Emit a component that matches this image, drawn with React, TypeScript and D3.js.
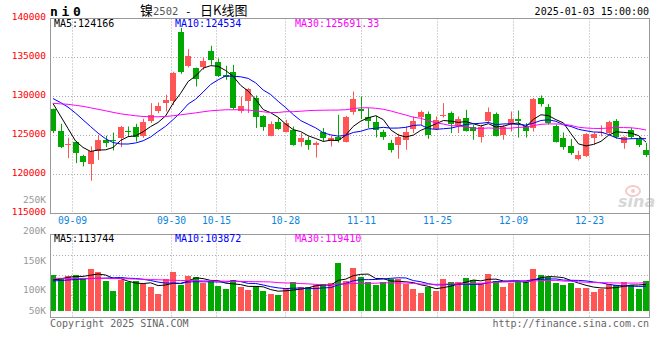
import React from "react";
import * as d3 from "d3";

// ---------- data ----------
const dates = [
  "09-04","09-05","09-06","09-09","09-10","09-11","09-12","09-13","09-18","09-19","09-20","09-23","09-24","09-25","09-26","09-27","09-30",
  "10-08","10-09","10-10","10-11","10-14","10-15","10-16","10-17","10-18","10-21","10-22","10-23","10-24","10-25","10-28","10-29","10-30","10-31",
  "11-01","11-04","11-05","11-06","11-07","11-08","11-11","11-12","11-13","11-14","11-15","11-18","11-19","11-20","11-21","11-22","11-25","11-26","11-27","11-28","11-29",
  "12-02","12-03","12-04","12-05","12-06","12-09","12-10","12-11","12-12","12-13","12-16","12-17","12-18","12-19","12-20","12-23","12-24","12-25","12-26","12-27","12-30","12-31",
  "01-02","01-03",
];
const opens = [
  128380,125600,123800,124230,122310,121370,122950,124360,124450,124670,125600,126150,124960,126920,128170,129150,129400,
  138260,133940,133640,133720,135860,134450,132820,133200,128170,129360,129870,127530,124960,126670,125510,125730,124230,124450,
  123720,125390,124320,124870,124230,127950,128390,127360,126670,125390,124100,123810,124360,125860,127310,127780,125820,127440,127870,126280,127230,
  126150,124830,126890,127780,125090,126500,127140,126280,125950,129800,128590,126280,124740,123680,122010,122310,124740,125400,125350,126800,124030,125730,
  124540,123080,
];
const highs = [
  128450,126500,124700,124300,122530,123600,125090,124960,125380,126240,126150,126500,127150,129150,129230,130220,133170,
  138800,136080,133700,135000,136500,134870,133940,134060,130000,131080,130130,127600,126800,127230,127010,126150,125310,124870,
  124230,125950,124960,127650,127530,130640,130000,128510,127530,125730,124450,125220,126150,127440,128210,128080,127440,129150,128080,127440,128300,
  126370,126370,128590,127950,126370,128080,128210,126590,129800,130130,129030,126400,125390,124540,123040,125300,125390,126300,126890,127100,124900,125950,
  124800,124030,
];
const lows = [
  125300,123400,122100,121460,121030,119200,121880,123510,123080,123510,124800,124230,124700,126590,127870,128080,128900,
  132910,133720,131280,133420,134060,132500,132140,128300,127870,127870,125950,125600,124900,125730,125400,123680,123590,123170,
  122180,124230,123590,124100,124100,127650,127100,125950,124740,124450,122820,122010,123170,125310,126370,124580,125700,127300,125310,125310,125510,
  124450,124100,126590,124870,124450,125510,124740,124740,125510,128720,126400,124100,123170,122530,121800,122230,123810,124900,125200,124600,123300,124600,
  123510,122230,
];
const closes = [
  125520,123510,123950,122820,121540,123000,124360,124100,124320,126030,125440,124870,126720,127650,128720,129580,133000,
  133080,135220,132270,134580,134620,132690,132490,128510,128810,130950,127310,126030,126500,125860,126590,123810,124740,123810,
  124100,124740,124620,124450,127360,129700,128080,126800,125730,124870,123080,124870,125510,126920,127950,125090,127010,127650,126500,127140,125640,
  125640,126150,128000,125000,126150,127100,126800,125640,129700,129060,126540,124230,123510,122820,122530,125220,125220,125450,126720,124800,124800,124800,
  123810,122530,
];
const volumes = [
  152100,139500,147900,152100,139500,177500,164800,126800,84500,131000,122600,126800,114100,101400,71800,135200,164800,
  109900,147900,143700,118300,126800,105700,93000,131000,101400,88700,105700,84500,71800,67600,97200,122600,101400,101400,
  109900,114100,118300,204100,126800,183000,142400,123800,109900,123800,135200,135200,112800,93000,77300,102700,85800,135200,123800,123800,140700,
  131000,117100,157600,126800,102700,119600,126800,126800,177500,152100,145000,119600,109900,117100,98500,98500,81600,91700,112800,109900,123800,109900,
  93000,126800,
];

// moving-average values before enough history is on the chart
const ma5Head = [129100, 127500, 125900, 124300];
const ma10Head = [129740, 129230, 128640, 127870, 127010, 126150, 125310, 124580, 124100];
const ma30Head = [
  129130,129060,129000,128870,128740,128550,128360,128170,127970,127780,127650,127530,127440,127400,127400,
  127440,127530,127650,127780,127900,128040,128170,128230,128300,128300,128300,128260,128170,128040,
];
const volMa5Head = [131000, 135200, 142400, 145800];
const volMa10Head = [126800, 128900, 131000, 133100, 135200, 137300, 138200, 139000, 140000];
const volMa30Head = [
  138200,138200,138000,138000,137800,137800,137500,137300,137000,136500,136000,135000,134000,133000,132000,
  131000,130000,129000,128500,128000,127500,127000,126500,126000,125500,125000,124500,124000,123500,
];

const priceTicks = [140000, 135000, 130000, 125000, 120000, 115000];
const volTicks = [250000, 200000, 150000, 100000, 50000];
const tickDates = ["09-09", "09-30", "10-15", "10-28", "11-11", "11-25", "12-09", "12-23"];
const maNames = ["MA5", "MA10", "MA30"];
const priceMaText = ["124166", "124534", "125691.33"];
const volMaText = ["113744", "103872", "119410"];

// ---------- styling ----------
const RED = "#ff5555";
const GREEN = "#00a800";
const MA_COLORS = ["#000000", "#0000ff", "#ff00ff"];
const MONO = "'DejaVu Sans Mono', monospace";
const GRID = "#aaaaaa";

function movingAverage(values: number[], period: number, head: number[]) {
  return values.map((_, i) =>
    i < period - 1 ? head[i] : (d3.mean(values.slice(i - period + 1, i + 1)) as number)
  );
}

export default function App() {
  const W = 660, H = 360;
  const left = 50, right = 649;
  const pTop = 18.5, pBot = 213.5;
  const vTop = 234.5, vBot = 317.5, vBase = 311;

  const x = d3.scalePoint<string>().domain(dates).range([53, 646.05]);
  const gridX = d3.scaleLinear().domain([0, dates.length - 1]).range([48.9, 650.4]);
  const y = d3.scaleLinear().domain([115000, 140000]).range([pBot, pTop]);
  const vy = d3.scaleLinear().domain([0, 325400]).range([vBase, 234]);
  const vLabelY = d3.scaleLinear().domain([50000, 100000, 150000, 200000, 250000]).range([314, 293.3, 264, 234, 202.7]);

  const priceMAs = [
    movingAverage(closes, 5, ma5Head),
    movingAverage(closes, 10, ma10Head),
    movingAverage(closes, 30, ma30Head),
  ];
  const volMAs = [
    movingAverage(volumes, 5, volMa5Head),
    movingAverage(volumes, 10, volMa10Head),
    movingAverage(volumes, 30, volMa30Head),
  ];

  const pLine = d3.line<number>().x((_, i) => x(dates[i]) as number).y((v) => y(v));
  const vLine = d3.line<number>().x((_, i) => x(dates[i]) as number).y((v) => vy(v));

  const gridXs = tickDates.map((d) => Math.round(gridX(dates.indexOf(d)))) ;

  return (
    <svg width={W} height={H} style={{ position: "absolute", left: 0, top: 0, background: "#fff" }}>
      <rect x={0} y={0} width={W} height={H} fill="#fff" />

      {/* header */}
      <text x={50} y={16} fontFamily={MONO} fontWeight="bold" fontSize={13} letterSpacing={3.7} fill="#000">ni0</text>
      <text y={15} fill="#000">
        <tspan x={140} fontFamily="'Noto Sans CJK SC'" fontSize={13}>镍</tspan>
        <tspan x={153} fontFamily={MONO} fontSize={10.5} fill="#555">2502</tspan>
        <tspan x={185} fontFamily={MONO} fontSize={11}>-</tspan>
        <tspan x={200} fontFamily="'Noto Sans CJK SC'" fontSize={13}>日K线图</tspan>
      </text>
      <text x={649} y={15} textAnchor="end" fontFamily={MONO} fontSize={10} fill="#000">2025-01-03 15:00:00</text>

      {/* price panel grid */}
      {priceTicks.slice(1, -1).map((t) => (
        <line key={t} x1={left} x2={right} y1={y(t)} y2={y(t)} stroke={GRID} strokeDasharray="1,2" />
      ))}
      {gridXs.map((gx, k) => (
        <g key={k}>
          <line x1={gx + 0.5} x2={gx + 0.5} y1={pTop} y2={pBot} stroke={GRID} strokeDasharray="1,2" />
          <line x1={gx + 0.5} x2={gx + 0.5} y1={vTop} y2={vBot} stroke={GRID} strokeDasharray="1,2" />
        </g>
      ))}
      {[255.5, 275.5, 295.5].map((gy) => (
        <line key={gy} x1={left} x2={right} y1={gy} y2={gy} stroke={GRID} strokeDasharray="1,2" />
      ))}

      {/* watermark */}
      <g opacity={0.55}>
        <ellipse cx={633} cy={191} rx={7} ry={5} fill="none" stroke="#f0a0a0" strokeWidth={2} />
        <circle cx={633} cy={191} r={2} fill="#f0a0a0" />
        <text x={618} y={207} fontFamily="'DejaVu Sans'" fontStyle="italic" fontWeight="bold" fontSize={16} fill="#b8b8b8">sina</text>
      </g>

      {/* candles */}
      {dates.map((d, i) => {
        const cx = Math.round(x(d) as number);
        const o = opens[i], c = closes[i];
        const color = c >= o ? RED : GREEN;
        const yTop = Math.round(y(Math.max(o, c)));
        const yBot = Math.round(y(Math.min(o, c)));
        return (
          <g key={d}>
            <line x1={cx + 0.5} x2={cx + 0.5} y1={y(highs[i])} y2={y(lows[i])} stroke={color} />
            <rect x={cx - 3} y={yTop} width={6} height={Math.max(1, yBot - yTop)} fill={color} />
          </g>
        );
      })}

      {/* price MAs */}
      {priceMAs.map((m, k) => (
        <path key={k} d={pLine(m) as string} fill="none" stroke={MA_COLORS[k]} strokeWidth={1} />
      ))}

      {/* volume bars */}
      {dates.map((d, i) => {
        const cx = Math.round(x(d) as number);
        const color = closes[i] >= opens[i] ? RED : GREEN;
        const top = Math.round(vy(volumes[i]));
        return <rect key={d} x={cx - 3} y={top} width={6} height={vBase - top} fill={color} />;
      })}
      {volMAs.map((m, k) => (
        <path key={k} d={vLine(m) as string} fill="none" stroke={MA_COLORS[k]} strokeWidth={1} />
      ))}

      {/* frames */}
      <rect x={left + 0.5} y={pTop} width={right - left} height={pBot - pTop} fill="none" stroke="#999" />
      <rect x={left + 0.5} y={vTop} width={right - left} height={vBot - vTop} fill="none" stroke="#999" />
      <line x1={right + 0.5} x2={right + 0.5} y1={pTop} y2={vBot} stroke="#999" />

      {/* legends */}
      {maNames.map((n, k) => (
        <text key={"p" + n} x={[54, 175, 295][k]} y={27} fontFamily={MONO} fontSize={10} fill={MA_COLORS[k]}>
          {n}:{priceMaText[k]}
        </text>
      ))}
      {maNames.map((n, k) => (
        <text key={"v" + n} x={[54, 175, 295][k]} y={242} fontFamily={MONO} fontSize={10} fill={MA_COLORS[k]}>
          {n}:{volMaText[k]}
        </text>
      ))}

      {/* axis labels */}
      {priceTicks.map((t) => (
        <text key={t} x={46} y={y(t) + 1.5} textAnchor="end" fontFamily={MONO} fontSize={9.5} fill="#ff0000">
          {t}
        </text>
      ))}
      {volTicks.map((t) => (
        <text key={t} x={46} y={vLabelY(t)} textAnchor="end" fontFamily={MONO} fontSize={9.5} fill="#999">
          {t / 1000}K
        </text>
      ))}
      {tickDates.map((d, k) => (
        <text key={d} x={gridXs[k] + 0.5} y={224} textAnchor="middle" fontFamily={MONO} fontSize={9.7} fill="#0b84e0">
          {d}
        </text>
      ))}

      {/* footer */}
      <text x={50} y={327} fontFamily={MONO} fontSize={10} fill="#666">Copyright 2025 SINA.COM</text>
      <text x={649} y={327} textAnchor="end" fontFamily={MONO} fontSize={10} fill="#666">http://finance.sina.com.cn</text>
    </svg>
  );
}
